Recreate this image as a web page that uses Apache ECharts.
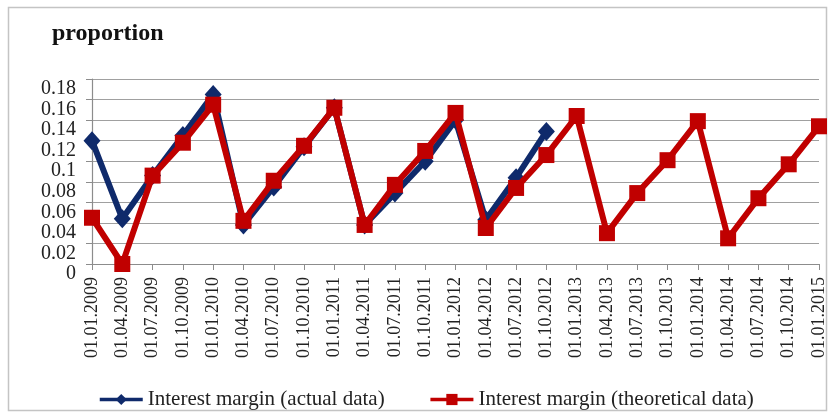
<!DOCTYPE html>
<html>
<head>
<meta charset="utf-8">
<script src="https://cdn.jsdelivr.net/npm/echarts@6/dist/echarts.min.js"></script>
<style>
html,body{margin:0;padding:0;background:#fff;}
#c{width:828px;height:412px;}
</style>
</head>
<body>
<div id="c"></div>
<script>
var categories = ["01.01.2009","01.04.2009","01.07.2009","01.10.2009","01.01.2010","01.04.2010","01.07.2010","01.10.2010","01.01.2011","01.04.2011","01.07.2011","01.10.2011","01.01.2012","01.04.2012","01.07.2012","01.10.2012","01.01.2013","01.04.2013","01.07.2013","01.10.2013","01.01.2014","01.04.2014","01.07.2014","01.10.2014","01.01.2015"];
var actualData = [0.120,0.044,0.086,0.125,0.165,0.038,0.075,0.114,0.152,0.038,0.069,0.100,0.140,0.043,0.084,0.129,null,null,null,null,null,null,null,null,null];
var theoreticalData = [0.045,0.000,0.086,0.118,0.155,0.042,0.081,0.115,0.152,0.038,0.077,0.110,0.147,0.035,0.074,0.106,0.144,0.030,0.069,0.101,0.139,0.025,0.064,0.097,0.134];
var seriesNames = ["Interest margin (actual data)","Interest margin (theoretical data)"];
var yTitle = "proportion";

var FONT = "'Liberation Serif', 'Times New Roman', serif";
var chart = echarts.init(document.getElementById('c'), null, {renderer:'canvas'});
chart.setOption({
  backgroundColor: '#ffffff',
  animation: false,
  graphic: [
    {type:'rect', shape:{x:8.5, y:7.5, width:818, height:403}, style:{fill:'none', stroke:'#c4c4c4', lineWidth:1.5}, silent:true},
    {type:'text', left:52, top:22, style:{text:yTitle, font:"bold 24px " + FONT, fill:'#111'}}
  ],
  legend: {
    top: 384,
    left: 93,
    itemWidth: 43,
    itemHeight: 14,
    itemGap: 44,
    lineStyle: {width: 3.5},
    textStyle: {fontFamily: FONT, fontSize: 21, color:'#222'},
    data: seriesNames
  },
  grid: {left: 92, right: 5, top: 79, bottom: 148, containLabel: false},
  xAxis: {
    type: 'category',
    data: categories,
    boundaryGap: false,
    axisLine: {lineStyle:{color:'#8c8c8c', width:1.2}},
    axisTick: {show:true, length:6, lineStyle:{color:'#8c8c8c'}},
    axisLabel: {rotate: 90, margin: 13, fontFamily: FONT, fontSize: 18, color:'#222', interval: 0},
    splitLine: {show:false}
  },
  yAxis: {
    type: 'value',
    min: 0,
    max: 0.18,
    interval: 0.02,
    axisLine: {show:true, lineStyle:{color:'#8c8c8c', width:1.2}},
    axisTick: {show:true, length:6, lineStyle:{color:'#8c8c8c'}},
    axisLabel: {margin: 16, fontFamily: FONT, fontSize: 20, color:'#222', verticalAlign:'top'},
    splitLine: {show:true, lineStyle:{color:'#a0a0a0', width:1.2}}
  },
  series: [
    {
      name: seriesNames[0],
      type: 'line',
      data: actualData,
      connectNulls: false,
      symbol: 'diamond',
      symbolSize: [17, 19],
      lineStyle: {color:'#0f2a6b', width: 6},
      itemStyle: {color:'#0f2a6b'},
      z: 2
    },
    {
      name: seriesNames[1],
      type: 'line',
      data: theoreticalData,
      symbol: 'rect',
      symbolSize: 16,
      lineStyle: {color:'#c00000', width: 6},
      itemStyle: {color:'#c00000'},
      z: 3
    }
  ]
});
</script>
</body>
</html>
